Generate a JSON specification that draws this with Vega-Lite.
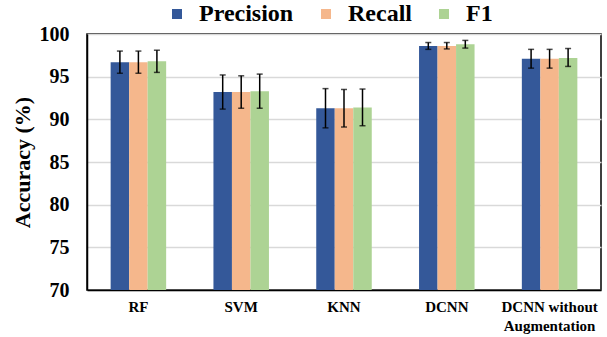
{
  "$schema": "https://vega.github.io/schema/vega-lite/v6.json",
  "width": 514,
  "height": 256,
  "autosize": "none",
  "padding": {"left": 87, "top": 34, "right": 6, "bottom": 47},
  "config": {
    "font": "Liberation Serif, Times New Roman, serif",
    "view": {"stroke": "black", "strokeWidth": 1.5}
  },
  "data": {
    "values": [
      {"model": "RF", "metric": "Precision", "value": 96.7, "lo": 95.4, "hi": 98.0},
      {"model": "RF", "metric": "Recall", "value": 96.7, "lo": 95.4, "hi": 98.0},
      {"model": "RF", "metric": "F1", "value": 96.8, "lo": 95.5, "hi": 98.1},
      {"model": "SVM", "metric": "Precision", "value": 93.2, "lo": 91.2, "hi": 95.2},
      {"model": "SVM", "metric": "Recall", "value": 93.2, "lo": 91.3, "hi": 95.1},
      {"model": "SVM", "metric": "F1", "value": 93.3, "lo": 91.3, "hi": 95.3},
      {"model": "KNN", "metric": "Precision", "value": 91.3, "lo": 89.0, "hi": 93.6},
      {"model": "KNN", "metric": "Recall", "value": 91.3, "lo": 89.1, "hi": 93.5},
      {"model": "KNN", "metric": "F1", "value": 91.4, "lo": 89.25, "hi": 93.55},
      {"model": "DCNN", "metric": "Precision", "value": 98.6, "lo": 98.2, "hi": 99.0},
      {"model": "DCNN", "metric": "Recall", "value": 98.6, "lo": 98.25, "hi": 99.0},
      {"model": "DCNN", "metric": "F1", "value": 98.8, "lo": 98.35, "hi": 99.25},
      {"model": "DCNN without Augmentation", "metric": "Precision", "value": 97.1, "lo": 96.0, "hi": 98.2},
      {"model": "DCNN without Augmentation", "metric": "Recall", "value": 97.1, "lo": 96.0, "hi": 98.2},
      {"model": "DCNN without Augmentation", "metric": "F1", "value": 97.2, "lo": 96.2, "hi": 98.3}
    ]
  },
  "encoding": {
    "x": {
      "field": "model",
      "type": "nominal",
      "sort": ["RF", "SVM", "KNN", "DCNN", "DCNN without Augmentation"],
      "scale": {"paddingInner": 0.46, "paddingOuter": 0.23},
      "axis": {
        "title": null,
        "labelAngle": 0,
        "labelFont": "Liberation Serif, serif",
        "labelFontSize": 15,
        "labelFontWeight": "bold",
        "labelColor": "black",
        "labelPadding": 9,
        "labelLineHeight": 19,
        "ticks": false,
        "domainColor": "black",
        "domainWidth": 1.5,
        "labelExpr": "datum.label == 'DCNN without Augmentation' ? ['DCNN without', 'Augmentation'] : datum.label"
      }
    },
    "xOffset": {"field": "metric", "type": "nominal", "sort": ["Precision", "Recall", "F1"]}
  },
  "layer": [
    {
      "mark": {"type": "bar", "clip": true},
      "encoding": {
        "y": {
          "field": "value",
          "type": "quantitative",
          "scale": {"domain": [70, 100], "zero": false},
          "axis": {
            "title": "Accuracy (%)",
            "titleFont": "Liberation Serif, serif",
            "titleFontSize": 22,
            "titleFontWeight": "bold",
            "titleColor": "black",
            "titlePadding": 5,
            "values": [70, 75, 80, 85, 90, 95, 100],
            "labelFont": "Liberation Serif, serif",
            "labelFontSize": 20,
            "labelFontWeight": "bold",
            "labelColor": "black",
            "labelPadding": 18,
            "ticks": false,
            "domainColor": "black",
            "domainWidth": 1.5,
            "gridColor": "#d9d9d9",
            "gridWidth": 1.5
          }
        },
        "color": {
          "field": "metric",
          "type": "nominal",
          "sort": ["Precision", "Recall", "F1"],
          "scale": {"domain": ["Precision", "Recall", "F1"], "range": ["#345899", "#F5B78C", "#ADD394"]},
          "legend": {
            "title": null,
            "orient": "none",
            "direction": "horizontal",
            "legendX": 78,
            "legendY": -32,
            "symbolType": "square",
            "symbolSize": 100,
            "symbolStrokeWidth": 0,
            "labelFont": "Liberation Serif, serif",
            "labelFontSize": 24,
            "labelFontWeight": "bold",
            "labelColor": "black",
            "labelOffset": 10,
            "labelLimit": 300,
            "columnPadding": 20
          }
        }
      }
    },
    {
      "mark": {"type": "rule", "color": "black", "strokeWidth": 1.5},
      "encoding": {
        "y": {"field": "lo", "type": "quantitative"},
        "y2": {"field": "hi"}
      }
    },
    {
      "mark": {"type": "tick", "color": "black", "size": 6, "thickness": 1.5},
      "encoding": {"y": {"field": "lo", "type": "quantitative"}}
    },
    {
      "mark": {"type": "tick", "color": "black", "size": 6, "thickness": 1.5},
      "encoding": {"y": {"field": "hi", "type": "quantitative"}}
    }
  ]
}
